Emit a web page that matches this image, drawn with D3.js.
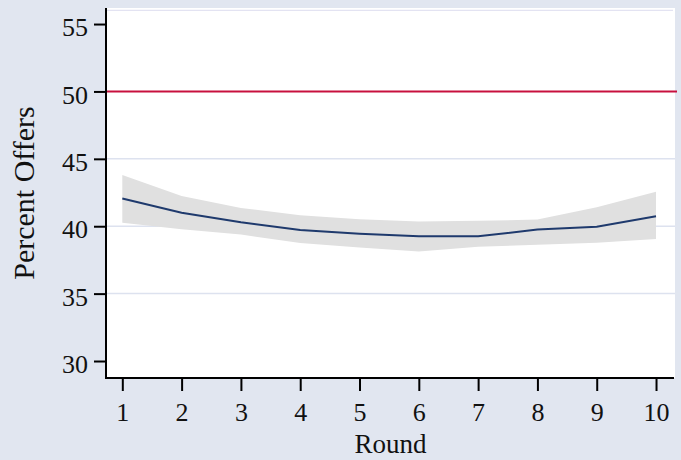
<!DOCTYPE html>
<html>
<head>
<meta charset="utf-8">
<script src="https://cdn.jsdelivr.net/npm/d3@7"></script>
<style>
  html, body { margin: 0; padding: 0; background: #e1e6f0; }
  svg { display: block; }
  text { font-family: "Liberation Serif", "DejaVu Serif", serif; fill: #111; }
</style>
</head>
<body>
<svg id="chart" width="681" height="460"></svg>
<script>
// Mean offer by round with confidence band
const rounds = [1, 2, 3, 4, 5, 6, 7, 8, 9, 10];
const meanOffer = [42.05, 41.0, 40.3, 39.72, 39.44, 39.25, 39.25, 39.75, 39.96, 40.74];
const upperCI  = [43.8, 42.25, 41.36, 40.82, 40.52, 40.35, 40.4, 40.49, 41.4, 42.55];
const lowerCI  = [40.25, 39.78, 39.38, 38.76, 38.42, 38.13, 38.48, 38.63, 38.78, 39.05];
const yTicks = [30, 35, 40, 45, 50, 55];
const gridTicks = [35, 40, 45];
const referenceLine = 50;

const svg = d3.select("#chart");
const W = 681, H = 460;
const plot = { left: 106, right: 675, top: 8, bottom: 378 };

svg.append("rect").attr("width", W).attr("height", H).attr("fill", "#e1e6f0");
svg.append("rect")
  .attr("x", plot.left).attr("y", plot.top)
  .attr("width", plot.right - plot.left).attr("height", plot.bottom - plot.top)
  .attr("fill", "#ffffff");

const x = d3.scaleLinear().domain([0.725, 10.32]).range([plot.left, plot.right]);
const y = d3.scaleLinear().domain([28.74, 56.19]).range([plot.bottom, plot.top]);

// faint inner frame line at the top of the plot region
svg.append("line")
  .attr("x1", plot.left).attr("x2", plot.right - 2)
  .attr("y1", plot.top + 2.3).attr("y2", plot.top + 2.3)
  .attr("stroke", "#e3e3f2").attr("stroke-width", 1.2);

// horizontal grid
svg.append("g").selectAll("line").data(gridTicks).join("line")
  .attr("x1", plot.left).attr("x2", plot.right)
  .attr("y1", d => y(d)).attr("y2", d => y(d))
  .attr("stroke", "#dde2ef").attr("stroke-width", 1.5);

const data = rounds.map((r, i) => ({ r, m: meanOffer[i], hi: upperCI[i], lo: lowerCI[i] }));

// confidence band
svg.append("path").datum(data)
  .attr("fill", "#e0e0e0")
  .attr("d", d3.area().x(d => x(d.r)).y0(d => y(d.lo)).y1(d => y(d.hi)));

// 50% reference line
svg.append("line")
  .attr("x1", plot.left).attr("x2", plot.right + 2)
  .attr("y1", y(referenceLine)).attr("y2", y(referenceLine))
  .attr("stroke", "#c8103e").attr("stroke-width", 2);

// mean line
svg.append("path").datum(data)
  .attr("fill", "none")
  .attr("stroke", "#1f3a6d").attr("stroke-width", 2)
  .attr("d", d3.line().x(d => x(d.r)).y(d => y(d.m)));

// axes
const yAxis = d3.axisLeft(y).tickValues(yTicks).tickSize(12).tickPadding(6).tickSizeOuter(0);
const gy = svg.append("g").attr("transform", `translate(${plot.left},0)`).call(yAxis);
gy.select(".domain").remove();
svg.append("line")
  .attr("x1", plot.left).attr("x2", plot.left)
  .attr("y1", plot.top).attr("y2", plot.bottom + 1)
  .attr("stroke", "#000").attr("stroke-width", 2);
gy.selectAll(".tick line").attr("stroke", "#000").attr("stroke-width", 2);
gy.selectAll(".tick text")
  .style("font-size", "26px").attr("fill", "#111").attr("dy", "0.45em");

const xAxis = d3.axisBottom(x).tickValues(rounds).tickFormat(d3.format("d"))
  .tickSize(13).tickPadding(14).tickSizeOuter(0);
const gx = svg.append("g").attr("transform", `translate(0,${plot.bottom})`).call(xAxis);
gx.select(".domain").remove();
svg.append("line")
  .attr("x1", plot.left - 1).attr("x2", plot.right - 1)
  .attr("y1", plot.bottom).attr("y2", plot.bottom)
  .attr("stroke", "#000").attr("stroke-width", 2);
gx.selectAll(".tick line").attr("stroke", "#000").attr("stroke-width", 2);
gx.selectAll(".tick text").style("font-size", "26px").attr("fill", "#111")
  .attr("dy", "0.62em");

// axis titles
svg.append("text")
  .attr("x", (plot.left + plot.right) / 2).attr("y", 453)
  .attr("text-anchor", "middle").style("font-size", "27px")
  .text("Round");
svg.append("text")
  .attr("transform", `translate(34,${(plot.top + plot.bottom) / 2}) rotate(-90)`)
  .attr("text-anchor", "middle").style("font-size", "30px")
  .text("Percent Offers");
</script>
</body>
</html>
